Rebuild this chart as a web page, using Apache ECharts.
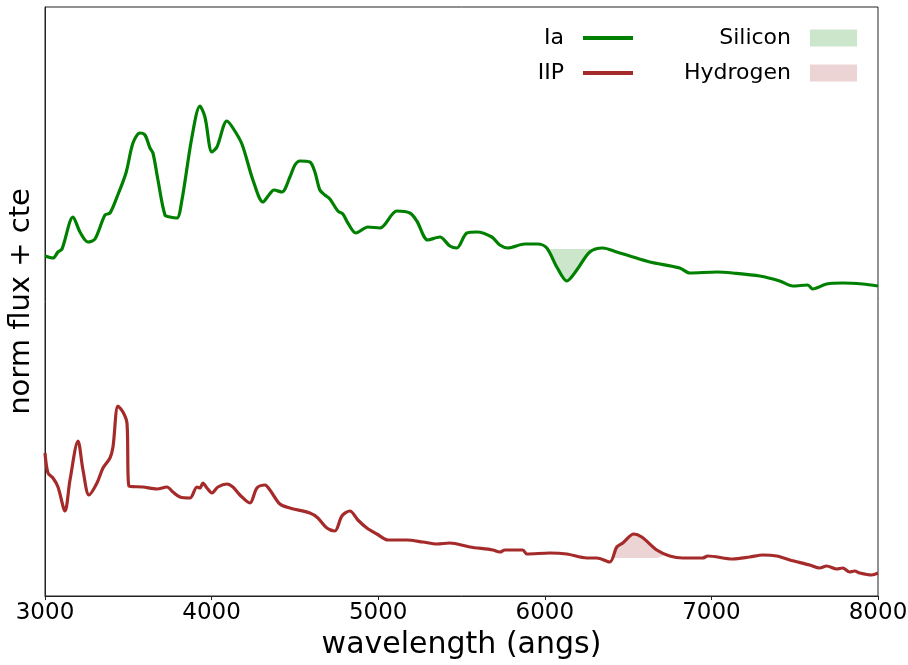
<!DOCTYPE html>
<html>
<head>
<meta charset="utf-8">
<script src="https://cdn.jsdelivr.net/npm/echarts@6/dist/echarts.min.js"></script>
<style>
  html, body { margin: 0; padding: 0; background: #fff; }
  #chart { width: 908px; height: 665px; }
</style>
</head>
<body>
<div id="chart"></div>
<script>
// Ia spectrum (wavelength in angstrom, normalised flux + offset)
const iaWave = [3000, 3048, 3078, 3102, 3168, 3210, 3258, 3300, 3360, 3390, 3432, 3486, 3528, 3570, 3600, 3630, 3648, 3678, 3720, 3750,
  3792, 3822, 3882, 3930, 3960, 4002, 4032, 4092, 4128, 4182, 4248, 4308, 4344, 4374, 4422, 4470, 4500, 4530, 4590, 4620,
  4650, 4680, 4710, 4758, 4788, 4818, 4866, 4938, 5010, 5112, 5190, 5232, 5298, 5370, 5430, 5472, 5532, 5592, 5682, 5730,
  5778, 5880, 5958, 6012, 6072, 6132, 6192, 6270, 6348, 6432, 6510, 6630, 6810, 6870, 7032, 7128, 7290, 7410, 7488, 7578,
  7608, 7692, 7788, 7908, 8000];
const iaFlux = [3.40, 3.38, 3.44, 3.47, 3.79, 3.64, 3.54, 3.57, 3.81, 3.83, 3.99, 4.23, 4.53, 4.63, 4.61, 4.48, 4.43, 4.16, 3.81, 3.79,
  3.78, 3.96, 4.59, 4.90, 4.79, 4.44, 4.49, 4.75, 4.68, 4.52, 4.16, 3.94, 4.01, 4.06, 4.04, 4.19, 4.31, 4.35, 4.34, 4.24,
  4.06, 4.01, 3.97, 3.85, 3.82, 3.73, 3.63, 3.69, 3.68, 3.85, 3.83, 3.75, 3.56, 3.59, 3.50, 3.48, 3.63, 3.64, 3.59, 3.51,
  3.48, 3.52, 3.52, 3.48, 3.29, 3.15, 3.26, 3.44, 3.48, 3.44, 3.40, 3.34, 3.28, 3.23, 3.24, 3.23, 3.20, 3.15, 3.10, 3.11,
  3.07, 3.12, 3.13, 3.12, 3.10];

// IIP spectrum
const iipWave = [3000, 3018, 3048, 3078, 3120, 3150, 3198, 3228, 3264, 3312, 3348, 3390, 3408, 3438, 3468, 3492, 3504, 3588, 3672, 3732,
  3768, 3810, 3870, 3912, 3930, 3948, 3972, 4002, 4038, 4092, 4128, 4170, 4230, 4272, 4320, 4350, 4410, 4470, 4590, 4638,
  4692, 4740, 4782, 4830, 4878, 4932, 4992, 5058, 5172, 5268, 5352, 5430, 5550, 5688, 5730, 5760, 5868, 5892, 6030, 6132,
  6252, 6312, 6390, 6432, 6468, 6534, 6582, 6672, 6750, 6828, 6948, 6978, 7128, 7230, 7308, 7392, 7470, 7590, 7650, 7692,
  7752, 7788, 7830, 7860, 7890, 7962, 8000];
const iipFlux = [1.43, 1.23, 1.18, 1.09, 0.85, 1.16, 1.55, 1.26, 1.01, 1.13, 1.28, 1.38, 1.49, 1.90, 1.84, 1.73, 1.10, 1.09, 1.07, 1.09,
  1.04, 0.99, 0.98, 1.09, 1.08, 1.13, 1.08, 1.03, 1.09, 1.12, 1.09, 1.01, 0.93, 1.08, 1.11, 1.06, 0.92, 0.88, 0.83, 0.78,
  0.68, 0.65, 0.80, 0.85, 0.76, 0.68, 0.62, 0.56, 0.56, 0.54, 0.52, 0.53, 0.49, 0.46, 0.44, 0.46, 0.46, 0.42, 0.43, 0.42,
  0.38, 0.38, 0.34, 0.49, 0.53, 0.62, 0.59, 0.46, 0.40, 0.38, 0.38, 0.40, 0.37, 0.39, 0.41, 0.40, 0.36, 0.31, 0.28, 0.30,
  0.27, 0.28, 0.24, 0.25, 0.23, 0.21, 0.23];

// shaded line regions: curve points and the flat level they are filled to
const siliconWave = [6030, 6072, 6132, 6192, 6270, 6290];
const siliconFlux = [3.47, 3.29, 3.15, 3.26, 3.44, 3.47];
const siliconLevel = 3.47;
const hydrogenWave = [6405, 6432, 6468, 6534, 6582, 6672, 6710];
const hydrogenFlux = [0.38, 0.49, 0.53, 0.62, 0.59, 0.46, 0.40];
const hydrogenLevel = 0.38;

const xTicks = [3000, 4000, 5000, 6000, 7000, 8000];

const zip = (a, b) => a.map((v, i) => [v, b[i]]);
const font = 'DejaVu Sans';

const chart = echarts.init(document.getElementById('chart'));

chart.setOption({
  animation: false,
  textStyle: { fontFamily: font },
  grid: {
    left: 45,
    right: 30,
    top: 7,
    bottom: 69,
    outerBoundsMode: 'none',
    containLabel: false,
    show: true,
    borderColor: '#222',
    borderWidth: 1
  },
  legend: [
    {
      orient: 'vertical',
      align: 'right',
      right: 270,
      top: 21,
      itemGap: 11,
      itemWidth: 50,
      itemHeight: 4,
      icon: 'rect',
      selectedMode: false,
      textStyle: { fontFamily: font, fontSize: 22, color: '#000', lineHeight: 24, padding: [0, 14, 0, 0] },
      data: ['Ia', 'IIP']
    },
    {
      orient: 'vertical',
      align: 'right',
      right: 46,
      top: 21,
      itemGap: 11,
      itemWidth: 47,
      itemHeight: 17,
      icon: 'rect',
      selectedMode: false,
      textStyle: { fontFamily: font, fontSize: 22, color: '#000', lineHeight: 24, padding: [0, 14, 0, 0] },
      data: ['Silicon', 'Hydrogen']
    }
  ],
  xAxis: {
    type: 'value',
    min: xTicks[0],
    max: xTicks[xTicks.length - 1],
    interval: 1000,
    name: 'wavelength (angs)',
    nameLocation: 'middle',
    nameGap: 32,
    nameTextStyle: { fontFamily: font, fontSize: 30, color: '#000' },
    axisLine: { show: true, lineStyle: { color: '#222', width: 1 } },
    axisTick: { show: true, length: 4, lineStyle: { color: '#222' } },
    axisLabel: {
      fontFamily: font,
      fontSize: 23,
      color: '#000',
      margin: 6,
      showMaxLabel: true,
      formatter: v => String(v)
    },
    splitLine: { show: false }
  },
  yAxis: {
    type: 'value',
    min: 0,
    max: 5.89,
    name: 'norm flux + cte',
    nameLocation: 'middle',
    nameGap: 9,
    nameTextStyle: { fontFamily: font, fontSize: 29, color: '#000' },
    axisLine: { show: true, lineStyle: { color: '#222', width: 1 } },
    axisTick: { show: false },
    axisLabel: { show: false },
    splitLine: { show: false }
  },
  series: [
    {
      name: 'Silicon',
      type: 'line',
      z: 1,
      silent: true,
      showSymbol: false,
      color: '#cce6cc',
      lineStyle: { width: 0 },
      areaStyle: { color: '#cce6cc', opacity: 1, origin: siliconLevel },
      data: zip(siliconWave, siliconFlux)
    },
    {
      name: 'Hydrogen',
      type: 'line',
      z: 1,
      silent: true,
      showSymbol: false,
      color: '#edd4d4',
      lineStyle: { width: 0 },
      areaStyle: { color: '#edd4d4', opacity: 1, origin: hydrogenLevel },
      data: zip(hydrogenWave, hydrogenFlux)
    },
    {
      name: 'Ia',
      type: 'line',
      z: 3,
      showSymbol: false,
      smooth: 0.3,
      color: '#008000',
      lineStyle: { width: 3.2, color: '#008000' },
      data: zip(iaWave, iaFlux)
    },
    {
      name: 'IIP',
      type: 'line',
      z: 3,
      showSymbol: false,
      smooth: 0.3,
      color: '#a52a2a',
      lineStyle: { width: 3.2, color: '#a52a2a' },
      data: zip(iipWave, iipFlux)
    }
  ]
});
</script>
</body>
</html>
